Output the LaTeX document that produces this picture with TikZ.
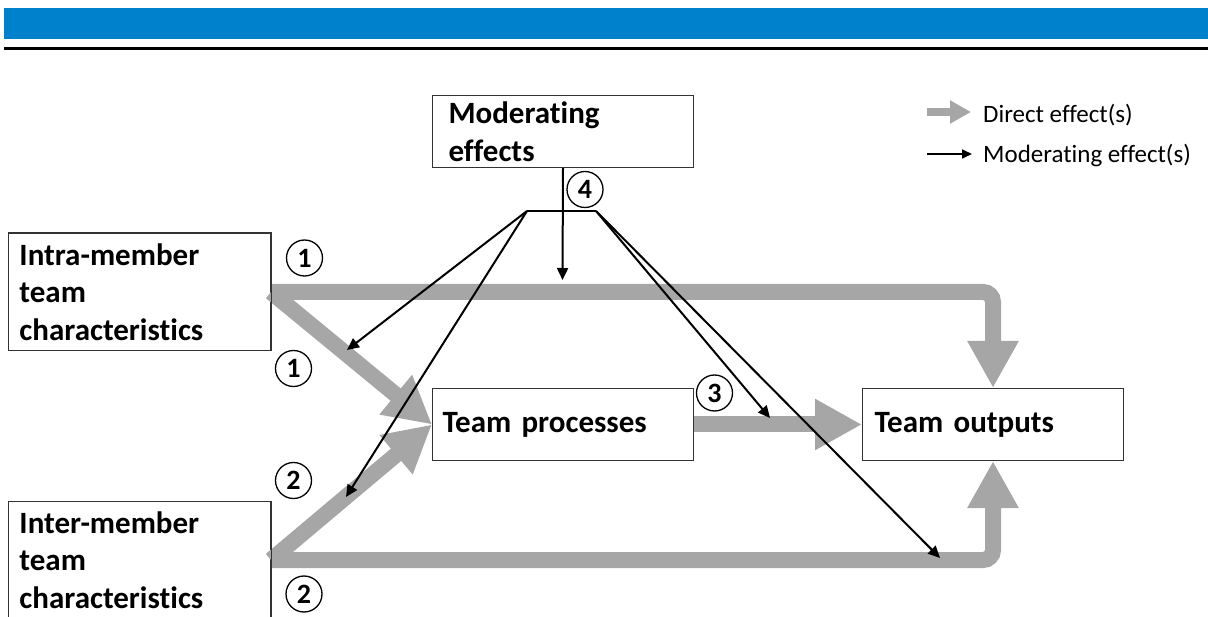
\documentclass[tikz,border=0pt]{standalone}
\usepackage{fontspec}
\setmainfont{Carlito}[Ligatures={NoCommon}]
\usetikzlibrary{arrows.meta}
\definecolor{barblue}{RGB}{0,129,204}
\definecolor{effgray}{RGB}{166,166,166}
\begin{document}
\begin{tikzpicture}[x=1pt,y=-1pt,
  box/.style={draw=black!80, line width=1pt, fill=white, rectangle, align=left,
    anchor=north west, inner ysep=0pt,
    font=\fontsize{31}{37.5}\selectfont\bfseries},
  direct/.style={draw=effgray, line width=16pt,
    -{Triangle[length=47pt,width=48pt]}},
  moder/.style={draw=black, line width=2pt,
    -{Triangle[length=12pt,width=11pt]}},
  num/.style={circle, draw=black, line width=1.3pt, minimum size=36pt,
    inner sep=0pt, font=\fontsize{28}{28}\selectfont\bfseries},
  legtext/.style={anchor=base west, inner sep=0pt,
    font=\fontsize{25}{30}\selectfont}
]
\useasboundingbox (0,0) rectangle (1208,617);

% header band and rule
\fill[barblue] (4,8) rectangle (1208,39);
\fill[black] (4,47) rectangle (1208,50.5);

% boxes
\node[box, minimum width=262pt, minimum height=117pt, text width=240pt, inner xsep=11pt]
  (intra) at (8,233) {Intra-member\\team\\characteristics};
\node[box, minimum width=262pt, minimum height=117pt, text width=240pt, inner xsep=11pt]
  (inter) at (8,501) {Inter-member\\team\\characteristics};
\node[box, minimum width=261pt, minimum height=72pt, text width=229pt, inner xsep=16pt]
  (mod) at (432,95) {Moderating\\effects};
\node[box, minimum width=261pt, minimum height=72pt, text width=241pt, inner xsep=10pt]
  (proc) at (432,388) {Team processes};
\node[box, minimum width=261pt, minimum height=72pt, text width=237pt, inner xsep=12pt]
  (outputs) at (862,388) {Team outputs};

% direct effects
\draw[direct, rounded corners=10pt] (intra.east) -| (outputs.north);
\draw[direct, rounded corners=10pt] (inter.east) -| (outputs.south);
\draw[direct] (intra.east) -- (proc.west);
\draw[direct] (inter.east) -- (proc.west);
\draw[direct] (proc.east) -- (outputs.west);

% redraw box borders over the arrow tails
\draw[black!80, line width=1pt] (intra.north west) rectangle (intra.south east);
\draw[black!80, line width=1pt] (inter.north west) rectangle (inter.south east);

% moderating effects
\coordinate (hubL) at (527,211);
\coordinate (hubR) at (596,211);
\coordinate (tipTop) at (562.5,280);
\coordinate (tipA) at (347,350);
\coordinate (tipB) at (346,497);
\coordinate (tipC) at (770,418);
\coordinate (tipD) at (940,558);
\draw[black, line width=2pt] (hubL) -- (hubR);
\draw[moder] (mod.south) -- (tipTop);
\draw[moder] (hubL) -- (tipA);
\draw[moder] (hubL) -- (tipB);
\draw[moder] (hubR) -- (tipC);
\draw[moder] (hubR) -- (tipD);

% path numbers
\node[num] (n1a) at (304.5,258) {1};
\node[num] (n1b) at (293.5,368.5) {1};
\node[num] (n2a) at (293.5,480.5) {2};
\node[num] (n2b) at (304,594) {2};
\node[num] (n3) at (714.5,393) {3};
\node[num] (n4) at (585,189.5) {4};

% legend
\node[legtext] (lg1) at (983,123) {Direct effect(s)};
\node[legtext] (lg2) at (983,163) {Moderating effect(s)};
\coordinate (lg1s) at (927,112);
\coordinate (lg1e) at (971,112);
\coordinate (lg2s) at (927,154);
\coordinate (lg2e) at (972,154);
\draw[effgray, line width=8pt, -{Triangle[length=21pt,width=22pt]}] (lg1s) -- (lg1e);
\draw[black, line width=1.7pt, -{Triangle[length=10pt,width=9pt]}] (lg2s) -- (lg2e);
\end{tikzpicture}
\end{document}
